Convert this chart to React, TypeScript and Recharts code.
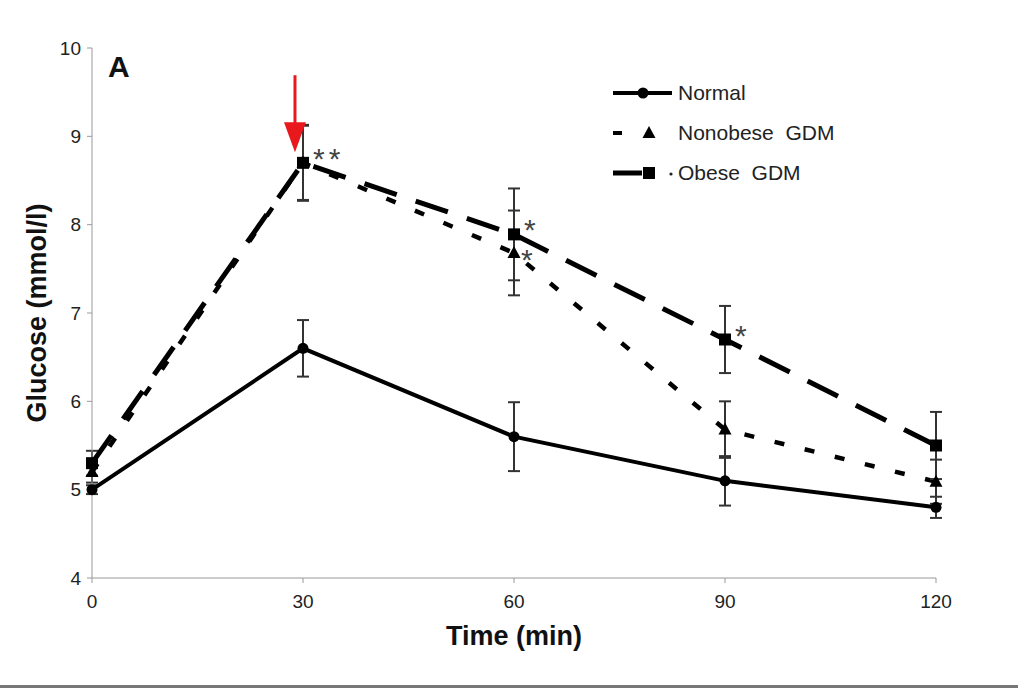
import { ComposedChart, Line, XAxis, YAxis, ErrorBar, LabelList, ReferenceDot } from 'recharts'

// time points (min)
const times = [0, 30, 60, 90, 120]
// mean glucose (mmol/l)
const normal = [5.0, 6.6, 5.6, 5.1, 4.8]
const nonobese = [5.2, 8.7, 7.68, 5.68, 5.09]
const obese = [5.3, 8.7, 7.89, 6.7, 5.5]
// error bars (+/-)
const normalErr = [0.05, 0.32, 0.39, 0.28, 0.12]
const nonobeseErr = [0.12, 0.42, 0.48, 0.32, 0.25]
const obeseErr = [0.14, 0.43, 0.52, 0.38, 0.38]
// significance marks
const nonobeseSig = ['', '', '*', '', '']
const obeseSig = ['', '**', '*', '*', '']
const yTicks = [4, 5, 6, 7, 8, 9, 10]

const data = times.map((t, i) => ({
  t,
  normal: normal[i], normalErr: normalErr[i],
  nonobese: nonobese[i], nonobeseErr: nonobeseErr[i], nonobeseSig: nonobeseSig[i],
  obese: obese[i], obeseErr: obeseErr[i], obeseSig: obeseSig[i],
}))

const FONT = '"Liberation Sans", Arial, sans-serif'

function marker(kind: string, cx: number, cy: number, key?: any) {
  if (kind === 'circle') return <circle key={key} cx={cx} cy={cy} r={5.5} fill='#000' />
  if (kind === 'triangle')
    return <polygon key={key} points={`${cx},${cy - 7} ${cx - 6.5},${cy + 5} ${cx + 6.5},${cy + 5}`} fill='#000' />
  return <rect key={key} x={cx - 6} y={cy - 6} width={12} height={12} fill='#000' />
}

const dotFn = (kind: string) => (p: any) => {
  if (p.cx == null || p.cy == null) return <g key={p.index} />
  return marker(kind, p.cx, p.cy, p.index)
}

const sigLabel = (dx: number, dy: number) => (p: any) => {
  if (!p.value) return null
  return (
    <text x={p.x + dx} y={p.y + dy} fontFamily={FONT} fontSize={30} fill='#444'
      letterSpacing={4}>{p.value}</text>
  )
}

const legendRows = [
  { name: 'Normal', kind: 'circle' },
  { name: 'Nonobese  GDM', kind: 'triangle' },
  { name: 'Obese  GDM', kind: 'square' },
]

function LegendBox() {
  return (
    <div style={{ position: 'absolute', left: 608, top: 73, fontFamily: FONT }}>
      {legendRows.map((r, i) => (
        <div key={r.name} style={{ display: 'flex', alignItems: 'center', height: 40 }}>
          <svg width={70} height={40}>
            {i === 0 && <line x1={5} y1={20} x2={64} y2={20} stroke='#000' strokeWidth={4} />}
            {i === 1 && <line x1={5} y1={20} x2={14} y2={20} stroke='#000' strokeWidth={4} />}
            {i === 2 && <line x1={5} y1={20} x2={34} y2={20} stroke='#000' strokeWidth={5} />}
            {i === 2 && <circle cx={63} cy={21} r={1.6} fill='#222' />}
            {marker(r.kind, i === 0 ? 35 : 41, 20)}
          </svg>
          <span style={{ fontSize: 21, color: '#222', whiteSpace: 'pre' }}>{r.name}</span>
        </div>
      ))}
    </div>
  )
}

// red arrow pointing at the 30 min peak
const arrowAt = { x: 28.86, y: 8.82 }
const RedArrow = (p: any) => {
  const { cx, cy } = p
  if (cx == null) return <g />
  return (
    <g>
      <line x1={cx} y1={cy - 77} x2={cx} y2={cy - 26} stroke='#e8181c' strokeWidth={3} />
      <polygon points={`${cx - 11},${cy - 30} ${cx + 11},${cy - 30} ${cx},${cy}`} fill='#e8181c' />
    </g>
  )
}

export default function App() {
  return (
    <div style={{ position: 'absolute', left: 0, top: 0, width: 1018, height: 688, background: '#fff' }}>
      <ComposedChart width={1018} height={688} data={data}
        margin={{ top: 48, right: 82, bottom: 80, left: 32 }}>
        <XAxis dataKey='t' type='number' domain={[0, 120]} ticks={times}
          stroke='#999' tickSize={5} tickMargin={12}
          tick={{ fill: '#222', fontSize: 19, fontFamily: FONT }}
          label={{ value: 'Time (min)', position: 'insideBottom', offset: -37,
            style: { fontFamily: FONT, fontSize: 27, fontWeight: 'bold', fill: '#111' } }} />
        <YAxis type='number' domain={[4, 10]} ticks={yTicks} width={60}
          stroke='#999' tickSize={5} tickMargin={6}
          tick={{ fill: '#222', fontSize: 19, fontFamily: FONT }}
          label={{ value: 'Glucose (mmol/l)', angle: -90, position: 'insideLeft', offset: 4,
            style: { fontFamily: FONT, fontSize: 27, fontWeight: 'bold', fill: '#111', textAnchor: 'middle' } }} />
        <Line dataKey='normal' name='Normal' stroke='#000' strokeWidth={4}
          dot={dotFn('circle')} activeDot={false} isAnimationActive={false}>
          <ErrorBar dataKey='normalErr' width={6} stroke='#333' strokeWidth={2} direction='y' />
        </Line>
        <Line dataKey='nonobese' name='Nonobese GDM' stroke='#000' strokeWidth={4.5}
          strokeDasharray='10 21' dot={dotFn('triangle')} activeDot={false} isAnimationActive={false}>
          <ErrorBar dataKey='nonobeseErr' width={6} stroke='#333' strokeWidth={2} direction='y' />
          <LabelList dataKey='nonobeseSig' content={sigLabel(7, 17)} />
        </Line>
        <Line dataKey='obese' name='Obese GDM' stroke='#000' strokeWidth={5}
          strokeDasharray='34 20' dot={dotFn('square')} activeDot={false} isAnimationActive={false}>
          <ErrorBar dataKey='obeseErr' width={6} stroke='#333' strokeWidth={2} direction='y' />
          <LabelList dataKey='obeseSig' content={sigLabel(10, 6)} />
        </Line>
        <ReferenceDot x={arrowAt.x} y={arrowAt.y} r={0} shape={RedArrow} />
        <text x={108} y={77} fontFamily={FONT} fontSize={30} fontWeight='bold' fill='#111'>A</text>
      </ComposedChart>
      <LegendBox />
      <div style={{ position: 'absolute', left: 0, top: 685, width: 1018, height: 3, background: '#777' }} />
    </div>
  )
}
